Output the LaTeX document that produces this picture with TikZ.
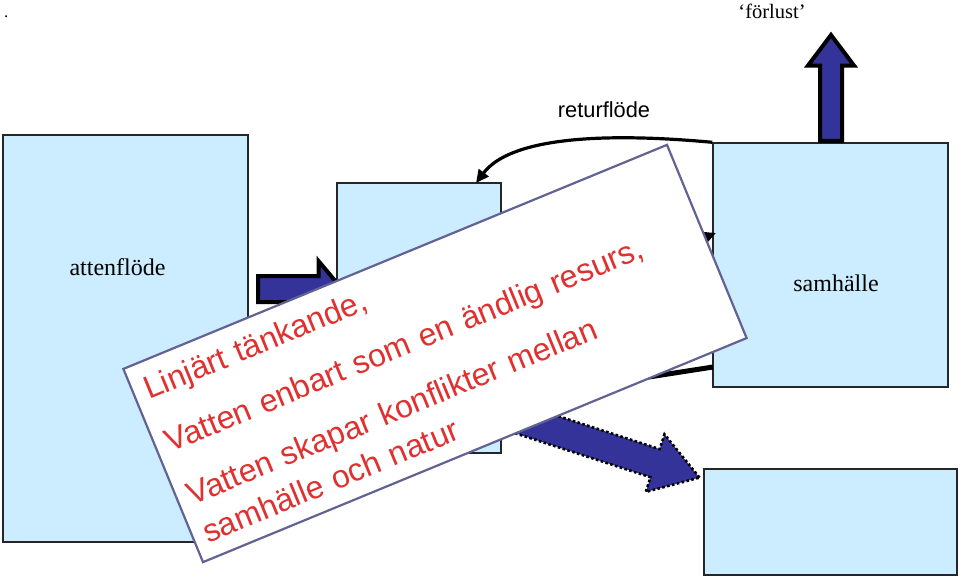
\documentclass[tikz,border=0pt]{standalone}
\usepackage{fontspec}
\setmainfont{Liberation Serif}
\newfontfamily\arialfont{Liberation Sans}
\usepackage{tikz}
\usetikzlibrary{positioning,arrows.meta,shapes.arrows,calc}
\definecolor{WaterFill}{HTML}{CCECFF}
\definecolor{FlowBlue}{HTML}{333399}
\definecolor{NoteRed}{HTML}{E0302F}
\definecolor{NoteFrame}{HTML}{626294}

\begin{document}
\begin{tikzpicture}[
  x=1pt, y=-1pt,
  waterbox/.style={draw=black!85,fill=WaterFill,line width=1.4pt,inner sep=0pt},
  boxlabel/.style={font=\fontsize{24}{29}\selectfont},
  blockarrow/.style={single arrow,fill=FlowBlue,draw=black,line width=4pt,inner xsep=0pt,
    single arrow head indent=0pt,anchor=tail},
  dottedarrow/.style={blockarrow,line width=2.6pt,dash pattern=on 2.6pt off 2.4pt},
  linkflow/.style={draw=black,line width=3.2pt,-{Triangle[length=13pt,width=12pt]}},
  notebox/.style={draw=NoteFrame,fill=white,line width=2.2pt,inner sep=0pt,align=left,
    text=NoteRed,font=\arialfont\fontsize{32}{41}\selectfont}
]
\useasboundingbox (0,0) rectangle (960,577);

% stray mark top left
\node[anchor=base west,inner sep=0pt,font=\fontsize{17}{20}\selectfont] (dot) at (4,18) {.};

% water boxes
\node[waterbox,minimum width=245pt,minimum height=407pt] (attenbox) at (125.5,338.5) {};
\node[waterbox,minimum width=164pt,minimum height=270pt] (midbox) at (419,318) {};
\node[waterbox,minimum width=235pt,minimum height=244pt] (samhbox) at (830.5,265) {};
\node[waterbox,minimum width=253pt,minimum height=106pt] (lowbox) at (830.5,522) {};

\node[boxlabel] (attenlabel) at (117.5,267) {attenflöde};
\node[boxlabel] (samhlabel) at (836,283.5) {samhälle};
\node[font=\fontsize{20.5}{25}\selectfont] (forlust) at (772,11) {‘förlust’};
\node[font=\arialfont\fontsize{21.8}{26}\selectfont] (returlabel) at (604,110) {returflöde};

% block arrows
\node[blockarrow,minimum height=84pt,inner ysep=11pt,single arrow head extend=15pt,
  single arrow tip angle=100] (inflow) at (256,289) {};
\node[blockarrow,rotate=90,minimum height=106pt,inner ysep=9pt,single arrow head extend=12pt,
  single arrow tip angle=74] (lossflow) at (831,143) {};
\node[dottedarrow,rotate=-18,minimum height=240pt,inner ysep=13.5pt,single arrow head extend=15.5pt,
  single arrow tip angle=66] (outflow) at (470,403) {};

% return flow
\coordinate (retend) at (476,183);
\draw[linkflow] (samhbox.north west) .. controls (600,132) and (510,138) .. (retend);

% links under the note
\coordinate (usein) at (716,233);
\coordinate (backout) at (713,367);
\coordinate (backin) at (501,400);
\draw[linkflow] (midbox.east) -- (usein);
\draw[linkflow,line width=5pt] (backout) -- (backin);

% note on top
\node[notebox,rotate=22.4,minimum width=588pt,minimum height=209pt,text width=564pt] (note)
  at (435,353.5) {Linjärt tänkande,\\[16pt]
  Vatten enbart som en ändlig resurs,\\[16pt]
  Vatten skapar konflikter mellan\\
  samhälle och natur};

\end{tikzpicture}
\end{document}
